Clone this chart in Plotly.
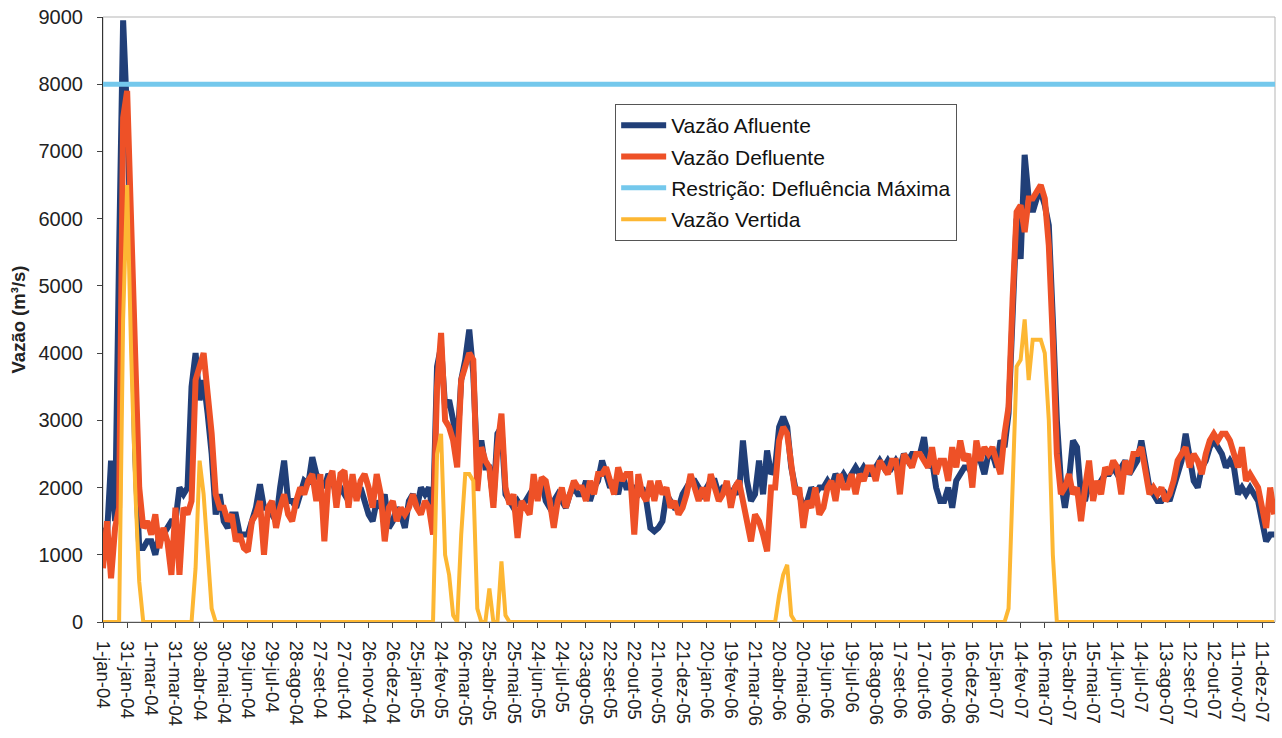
"""
	Vazões afluente, defluente e vertida (jan-04 a dez-07)
"""

import datetime as dt

import pandas as pd
import plotly.graph_objs as go

INICIO = "2004-01-01"
PASSO_DIAS = 5

# valores lidos a cada 5 dias, uma linha por intervalo de 30 dias
AFLUENTE = [
    1400, 1300, 2400, 1500, 5500, 8950,   # 1-jan-04
    7500, 5500, 2500, 1100, 1100, 1200,   # 31-jan-04
    1200, 1000, 1300, 1300, 1400, 1500,   # 1-mar-04
    1500, 2000, 1900, 2000, 3500, 4000,   # 31-mar-04
    3300, 3600, 3100, 2500, 1600, 1900,   # 30-abr-04
    1500, 1400, 1600, 1600, 1300, 1300,   # 30-mai-04
    1300, 1500, 1700, 2050, 1700, 1700,   # 29-jun-04
    1600, 1500, 2000, 2400, 1800, 1800,   # 29-jul-04
    1700, 1900, 2100, 2050, 2450, 2200,   # 28-ago-04
    2100, 2000, 2200, 2100, 1900, 2000,   # 27-set-04
    1900, 1800, 2100, 1900, 2000, 1800,   # 27-out-04
    1600, 1500, 1800, 1700, 1900, 1400,   # 26-nov-04
    1500, 1700, 1600, 1400, 1800, 1900,   # 26-dez-04
    1700, 2000, 1900, 2000, 1600, 3800,   # 25-jan-05
    4100, 3200, 3300, 3000, 2600, 3600,   # 24-fev-05
    3900, 4350, 3700, 2300, 2700, 2300,   # 26-mar-05
    2300, 1800, 2800, 2900, 1900, 1800,   # 25-abr-05
    1700, 1800, 1700, 1800, 1900, 2000,   # 25-mai-05
    1900, 2100, 1800, 1700, 1800,         # 24-jun-05
    1900, 1800, 1700, 1900, 2000, 1900,   # 24-jul-05
    1900, 2100, 1800, 2000, 2100, 2400,   # 23-ago-05
    2200, 2000, 2100, 1900, 2200, 2000,   # 22-set-05
    2000, 2000, 1900, 2000, 1800, 1400,   # 22-out-05
    1350, 1400, 1500, 1900, 1800, 1700,   # 21-nov-05
    1700, 1900, 2000, 2100, 2100, 2000,   # 21-dez-05
    1900, 2000, 2100, 2100, 1900, 2000,   # 20-jan-06
    2000, 1900, 2000, 1900, 2700, 2100,   # 19-fev-06
    1800, 1900, 2400, 1900, 2550, 2200,   # 21-mar-06
    2300, 2900, 3050, 2900, 2300, 2000,   # 20-abr-06
    1900, 1700, 1800, 2000, 1900, 2000,   # 20-mai-06
    2000, 2100, 2000, 2200, 2100, 2200,   # 19-jun-06
    2100, 2200, 2300, 2200, 2300, 2200,   # 19-jul-06
    2200, 2300, 2400, 2300, 2400, 2300,   # 18-ago-06
    2400, 2300, 2500, 2400, 2500, 2500,   # 17-set-06
    2500, 2750, 2300, 2400, 2000, 1800,   # 17-out-06
    1800, 2000, 1700, 2100, 2200, 2300,   # 16-nov-06
    2300, 2200, 2500, 2400, 2200, 2500,   # 16-dez-06
    2500, 2300, 2700, 2600, 3100, 4800,   # 15-jan-07
    6000, 5400, 6950, 6300, 6100, 6300,   # 14-fev-07
    6400, 6200, 5900, 4500, 3000, 2100,   # 16-mar-07
    1700, 2100, 2700, 2600, 1900, 1800,   # 15-abr-07
    2100, 1900, 2000, 2100, 2200, 2200,   # 15-mai-07
    2300, 2200, 2300, 2400, 2200, 2300,   # 14-jun-07
    2400, 2700, 2300, 2000, 1900,         # 14-jul-07
    1800, 1800, 1900, 1800, 2000, 2200,   # 13-ago-07
    2400, 2800, 2400, 2100, 2000, 2300,   # 12-set-07
    2400, 2600, 2700, 2600, 2500, 2300,   # 12-out-07
    2400, 2300, 1900, 2000, 1900, 2000,   # 11-nov-07
    1900, 1800, 1500, 1200, 1300, 1300,   # 11-dez-07
]

DEFLUENTE = [
    800, 1500, 650, 1400, 1700, 7500,     # 1-jan-04
    7900, 6000, 4000, 2000, 1400, 1500,   # 31-jan-04
    1300, 1600, 1100, 1400, 1200, 700,    # 1-mar-04
    1700, 700, 1700, 1600, 1800, 3600,    # 31-mar-04
    3800, 4000, 3400, 2800, 1900, 1700,   # 30-abr-04
    1700, 1500, 1600, 1200, 1300, 1100,   # 30-mai-04
    1050, 1500, 1600, 1800, 1000, 1700,   # 29-jun-04
    1800, 1400, 1700, 1900, 1600, 1500,   # 29-jul-04
    1800, 2000, 1900, 2100, 2200, 1800,   # 28-ago-04
    2200, 1200, 2100, 2250, 1700, 2200,   # 27-set-04
    2250, 1700, 2200, 1800, 2100, 2200,   # 27-out-04
    2000, 1700, 2200, 1900, 1200, 1700,   # 26-nov-04
    1800, 1500, 1700, 1600, 1700, 1900,   # 26-dez-04
    1700, 1600, 1800, 1700, 1300, 3500,   # 25-jan-05
    4300, 3000, 2900, 2700, 2300, 3600,   # 24-fev-05
    3800, 4000, 3900, 1950, 2600, 2400,   # 26-mar-05
    2300, 1700, 2600, 3100, 2000, 1750,   # 25-abr-05
    1900, 1250, 1800, 1700, 1600, 2200,   # 25-mai-05
    1800, 2150, 2100, 1800, 1400,         # 24-jun-05
    1800, 2000, 1700, 1900, 2100, 2000,   # 24-jul-05
    2000, 1800, 2100, 1900, 2200, 2200,   # 23-ago-05
    2300, 2100, 1900, 2300, 2100, 2200,   # 22-set-05
    2200, 1300, 2200, 1900, 1800, 2100,   # 22-out-05
    1800, 2100, 1900, 2000, 1700, 1800,   # 21-nov-05
    1600, 1700, 1900, 2200, 2000, 1800,   # 21-dez-05
    2000, 1800, 2200, 2000, 1800, 1900,   # 20-jan-06
    2100, 1700, 2000, 2100, 1800, 1600,   # 19-fev-06
    1200, 1600, 1500, 1300, 1050, 2000,   # 21-mar-06
    2000, 2700, 2900, 2800, 2300, 1900,   # 20-abr-06
    2000, 1400, 1800, 1700, 2000, 1600,   # 20-mai-06
    1700, 2000, 2100, 1800, 2200, 2000,   # 19-jun-06
    2000, 2200, 1900, 2200, 2100, 2300,   # 19-jul-06
    2300, 2100, 2400, 2300, 2200, 2400,   # 18-ago-06
    2400, 1900, 2500, 2400, 2300, 2500,   # 17-set-06
    2500, 2400, 2300, 2600, 2200, 2400,   # 17-out-06
    2400, 2100, 2600, 2300, 2700, 2400,   # 16-nov-06
    2500, 2000, 2700, 2400, 2600, 2500,   # 16-dez-06
    2600, 2400, 2200, 2800, 3200, 4800,   # 15-jan-07
    6100, 6200, 5800, 6300, 6300, 6400,   # 14-fev-07
    6500, 6300, 5600, 4200, 2500, 1900,   # 16-mar-07
    2000, 2200, 1900, 2000, 1500, 2000,   # 15-abr-07
    2400, 1800, 2100, 1900, 2300, 2200,   # 15-mai-07
    2400, 2300, 1900, 2400, 2200, 2500,   # 14-jun-07
    2500, 2600, 2300, 1900, 2000,         # 14-jul-07
    1900, 2000, 1800, 1900, 2100, 2400,   # 13-ago-07
    2500, 2600, 2300, 2500, 2400, 2200,   # 12-set-07
    2500, 2700, 2800, 2700, 2800, 2800,   # 12-out-07
    2700, 2500, 2300, 2600, 2100, 2200,   # 11-nov-07
    2100, 2000, 1700, 1400, 2000, 1600,   # 11-dez-07
]

VERTIDA = [
    0, 0, 0, 0, 0, 4500,                  # 1-jan-04
    6500, 4000, 2000, 600, 0, 0,          # 31-jan-04
    0, 0, 0, 0, 0, 0,                     # 1-mar-04
    0, 0, 0, 0, 0, 800,                   # 31-mar-04
    2400, 1900, 1000, 200, 0, 0,          # 30-abr-04
    0, 0, 0, 0, 0, 0,                     # 30-mai-04
    0, 0, 0, 0, 0, 0,                     # 29-jun-04
    0, 0, 0, 0, 0, 0,                     # 29-jul-04
    0, 0, 0, 0, 0, 0,                     # 28-ago-04
    0, 0, 0, 0, 0, 0,                     # 27-set-04
    0, 0, 0, 0, 0, 0,                     # 27-out-04
    0, 0, 0, 0, 0, 0,                     # 26-nov-04
    0, 0, 0, 0, 0, 0,                     # 26-dez-04
    0, 0, 0, 0, 0, 2500,                  # 25-jan-05
    2800, 1000, 700, 100, 0, 1300,        # 24-fev-05
    2200, 2200, 2100, 200, 0, 0,          # 26-mar-05
    500, 0, 0, 900, 100, 0,               # 25-abr-05
    0, 0, 0, 0, 0, 0,                     # 25-mai-05
    0, 0, 0, 0, 0,                        # 24-jun-05
    0, 0, 0, 0, 0, 0,                     # 24-jul-05
    0, 0, 0, 0, 0, 0,                     # 23-ago-05
    0, 0, 0, 0, 0, 0,                     # 22-set-05
    0, 0, 0, 0, 0, 0,                     # 22-out-05
    0, 0, 0, 0, 0, 0,                     # 21-nov-05
    0, 0, 0, 0, 0, 0,                     # 21-dez-05
    0, 0, 0, 0, 0, 0,                     # 20-jan-06
    0, 0, 0, 0, 0, 0,                     # 19-fev-06
    0, 0, 0, 0, 0, 0,                     # 21-mar-06
    0, 400, 700, 850, 100, 0,             # 20-abr-06
    0, 0, 0, 0, 0, 0,                     # 20-mai-06
    0, 0, 0, 0, 0, 0,                     # 19-jun-06
    0, 0, 0, 0, 0, 0,                     # 19-jul-06
    0, 0, 0, 0, 0, 0,                     # 18-ago-06
    0, 0, 0, 0, 0, 0,                     # 17-set-06
    0, 0, 0, 0, 0, 0,                     # 17-out-06
    0, 0, 0, 0, 0, 0,                     # 16-nov-06
    0, 0, 0, 0, 0, 0,                     # 16-dez-06
    0, 0, 0, 0, 200, 2000,                # 15-jan-07
    3800, 3900, 4500, 3600, 4200, 4200,   # 14-fev-07
    4200, 4000, 3000, 1000, 0, 0,         # 16-mar-07
    0, 0, 0, 0, 0, 0,                     # 15-abr-07
    0, 0, 0, 0, 0, 0,                     # 15-mai-07
    0, 0, 0, 0, 0, 0,                     # 14-jun-07
    0, 0, 0, 0, 0,                        # 14-jul-07
    0, 0, 0, 0, 0, 0,                     # 13-ago-07
    0, 0, 0, 0, 0, 0,                     # 12-set-07
    0, 0, 0, 0, 0, 0,                     # 12-out-07
    0, 0, 0, 0, 0, 0,                     # 11-nov-07
    0, 0, 0, 0, 0, 0,                     # 11-dez-07
]

RESTRICAO = 8000

ROTULOS_X = [
    "1-jan-04", "31-jan-04", "1-mar-04", "31-mar-04", "30-abr-04", "30-mai-04",
    "29-jun-04", "29-jul-04", "28-ago-04", "27-set-04", "27-out-04", "26-nov-04",
    "26-dez-04", "25-jan-05", "24-fev-05", "26-mar-05", "25-abr-05", "25-mai-05",
    "24-jun-05", "24-jul-05", "23-ago-05", "22-set-05", "22-out-05", "21-nov-05",
    "21-dez-05", "20-jan-06", "19-fev-06", "21-mar-06", "20-abr-06", "20-mai-06",
    "19-jun-06", "19-jul-06", "18-ago-06", "17-set-06", "17-out-06", "16-nov-06",
    "16-dez-06", "15-jan-07", "14-fev-07", "16-mar-07", "15-abr-07", "15-mai-07",
    "14-jun-07", "14-jul-07", "13-ago-07", "12-set-07", "12-out-07", "11-nov-07",
    "11-dez-07",
]

COR_AFLUENTE = "#213f78"
COR_DEFLUENTE = "#ee5127"
COR_RESTRICAO = "#74c8ec"
COR_VERTIDA = "#fdb733"

FONTE = "Arial, Liberation Sans, sans-serif"


def vazao_plot():
    """
        Creates the plot with inflow, outflow, spill and max outflow limit

        Returns:
            the plotly figure
    """

    datas = pd.date_range(INICIO, periods=len(AFLUENTE), freq=f"{PASSO_DIAS}D")
    inicio = pd.Timestamp(INICIO)
    fim = inicio + dt.timedelta(days=1456)
    ticks = [inicio + dt.timedelta(days=30 * i) for i in range(len(ROTULOS_X))]

    data = [
        go.Scatter(x=datas, y=AFLUENTE, mode="lines", name="Vazão Afluente",
                   line={"color": COR_AFLUENTE, "width": 6}, legendgroup="a"),
        go.Scatter(x=datas, y=DEFLUENTE, mode="lines", name="Vazão Defluente",
                   line={"color": COR_DEFLUENTE, "width": 6}, legendgroup="d"),
        go.Scatter(x=[inicio, fim], y=[RESTRICAO, RESTRICAO], mode="lines",
                   name="Restrição: Defluência Máxima",
                   line={"color": COR_RESTRICAO, "width": 5}, legendgroup="r"),
        go.Scatter(x=datas, y=VERTIDA, mode="lines", name="Vazão Vertida",
                   line={"color": COR_VERTIDA, "width": 4}, legendgroup="v"),
    ]

    layout = go.Layout(
        width=1282, height=738,
        margin={"l": 103, "r": 7, "t": 17, "b": 116},
        paper_bgcolor="white", plot_bgcolor="white",
        font={"family": FONTE, "size": 20, "color": "#222"},
        showlegend=True,
        legend={"x": 0.437, "y": 0.856, "xanchor": "left", "yanchor": "top",
                "bgcolor": "white", "bordercolor": "#555", "borderwidth": 1,
                "font": {"size": 21, "color": "#111"}, "tracegroupgap": 1,
                "itemwidth": 45},
        xaxis={"type": "date", "range": [inicio, fim],
               "tickmode": "array", "tickvals": ticks, "ticktext": ROTULOS_X,
               "tickangle": 90, "tickfont": {"size": 18.5},
               "ticks": "outside", "ticklen": 5, "tickcolor": "#444",
               "showline": True, "linecolor": "#555", "linewidth": 1,
               "showgrid": False, "zeroline": False, "automargin": False,
               "ticklabelstandoff": 9, "ticklabeloverflow": "allow"},
        yaxis={"range": [0, 9000], "dtick": 1000, "tick0": 0,
               "ticks": "outside", "ticklen": 5, "tickcolor": "#444",
               "showline": True, "linecolor": "#333", "linewidth": 1,
               "showgrid": False, "zeroline": False, "automargin": False,
               "tickfont": {"size": 20}, "ticklabelstandoff": 10,
               "ticklabeloverflow": "allow",
               "title": {"text": "<b>Vazão (m³/s)</b>", "standoff": 8,
                         "font": {"size": 18.5}}},
        shapes=[{"type": "rect", "xref": "paper", "yref": "paper",
                 "x0": 0, "x1": 1, "y0": 0, "y1": 1, "layer": "below",
                 "line": {"color": "#b5b5b5", "width": 1}}],
    )
    return go.Figure(data=data, layout=layout)


fig = vazao_plot()
# tira a margem padrão do body para a figura ocupar a janela toda
fig.write_html("out.html", config={"displayModeBar": False},
               post_script="document.body.style.margin = '0';")
